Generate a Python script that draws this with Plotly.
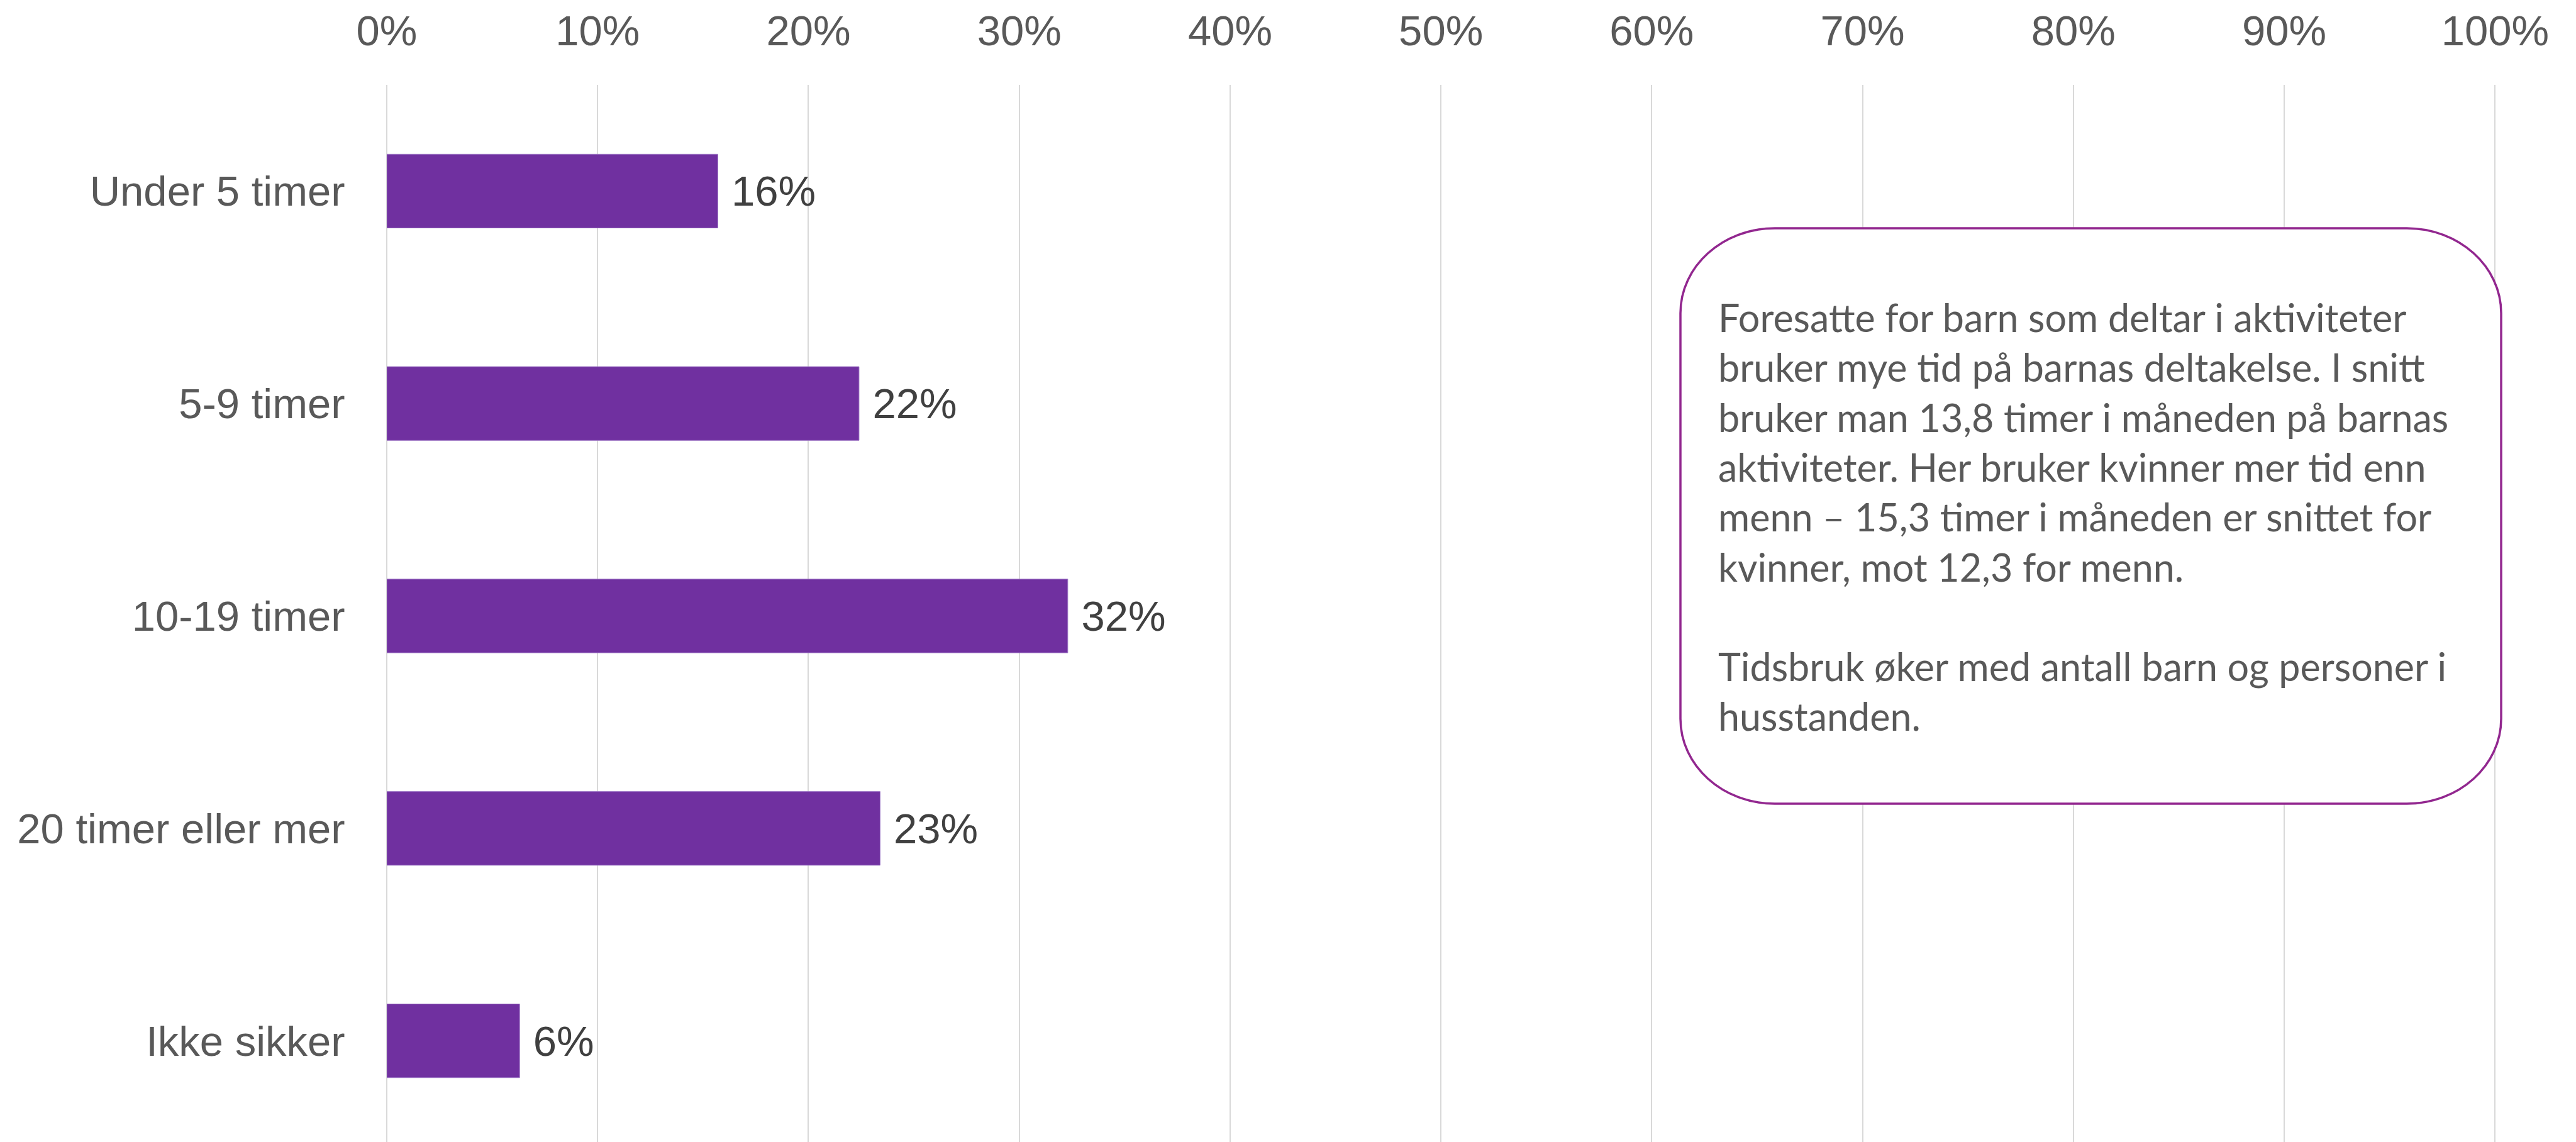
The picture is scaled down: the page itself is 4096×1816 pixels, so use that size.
import plotly.graph_objects as go

categories = ["Under 5 timer", "5-9 timer", "10-19 timer", "20 timer eller mer", "Ikke sikker"]
values = [0.157, 0.224, 0.323, 0.234, 0.063]
value_labels = ["16%", "22%", "32%", "23%", "6%"]
tick_vals = [i / 10 for i in range(11)]
tick_text = [f"{i*10}%" for i in range(11)]

box_lines = [
    "Foresatte for barn som deltar i aktiviteter",
    "bruker mye tid på barnas deltakelse. I snitt",
    "bruker man 13,8 timer i måneden på barnas",
    "aktiviteter. Her bruker kvinner mer tid enn",
    "menn – 15,3 timer i måneden er snittet for",
    "kvinner, mot 12,3 for menn.",
    "",
    "Tidsbruk øker med antall barn og personer i",
    "husstanden.",
]

W, H = 4096, 1816
L, R, T, B = 607, W - 3961, 127, 0
PW, PH = W - L - R, H - T - B

def px(x):
    return (x - L) / PW

def py(y):
    return (H - B - y) / PH

PURPLE = "#7030A0"

fig = go.Figure()
fig.add_trace(go.Bar(
    x=values, y=categories, orientation="h",
    marker=dict(color=PURPLE, line=dict(color="#9b73c4", width=1)),
    text=["&nbsp;" + t for t in value_labels], textposition="outside", cliponaxis=False,
    textfont=dict(family="Liberation Sans, Arial", size=67, color="#404040"),
    width=0.347, hoverinfo="skip",
))

# rounded text box
x0, x1, y0, y1 = 2664, 3969, 355, 1270
rx, ry = 150, 135
k = 0.5523
path = (
    f"M {px(x0+rx)} {py(y0)} L {px(x1-rx)} {py(y0)} "
    f"C {px(x1-rx+k*rx)} {py(y0)} {px(x1)} {py(y0+ry-k*ry)} {px(x1)} {py(y0+ry)} "
    f"L {px(x1)} {py(y1-ry)} "
    f"C {px(x1)} {py(y1-ry+k*ry)} {px(x1-rx+k*rx)} {py(y1)} {px(x1-rx)} {py(y1)} "
    f"L {px(x0+rx)} {py(y1)} "
    f"C {px(x0+rx-k*rx)} {py(y1)} {px(x0)} {py(y1-ry+k*ry)} {px(x0)} {py(y1-ry)} "
    f"L {px(x0)} {py(y0+ry)} "
    f"C {px(x0)} {py(y0+ry-k*ry)} {px(x0+rx-k*rx)} {py(y0)} {px(x0+rx)} {py(y0)} Z"
)
fig.add_shape(type="path", path=path, xref="paper", yref="paper",
              line=dict(color="#92278F", width=3.5), fillcolor="white", layer="above")

fig.add_annotation(
    x=px(2722), y=py(458), xref="paper", yref="paper",
    xanchor="left", yanchor="top", align="left", showarrow=False,
    text="<br>".join(box_lines),
    font=dict(family="Lato", size=61, color="#595959"),
)

fig.update_layout(
    width=W, height=H,
    margin=dict(l=L, r=R, t=T, b=B, pad=0, autoexpand=False),
    paper_bgcolor="white", plot_bgcolor="white",
    showlegend=False, bargap=0.653,
    xaxis=dict(
        range=[0, 1.0005], side="top", tickvals=tick_vals, ticktext=tick_text,
        showgrid=True, gridcolor="#d9d9d9", gridwidth=2,
        zeroline=True, zerolinecolor="#d9d9d9", zerolinewidth=2,
        showline=False, ticks="outside", ticklen=35, tickcolor="rgba(0,0,0,0)",
        tickfont=dict(family="Liberation Sans, Arial", size=67, color="#595959"),
        fixedrange=True, automargin=False,
    ),
    yaxis=dict(
        autorange="reversed", showgrid=False, zeroline=False, showline=False,
        ticks="outside", ticklen=52, tickcolor="rgba(0,0,0,0)",
        tickfont=dict(family="Liberation Sans, Arial", size=67, color="#595959"),
        fixedrange=True, automargin=False,
    ),
)

fig.write_html("out.html")
